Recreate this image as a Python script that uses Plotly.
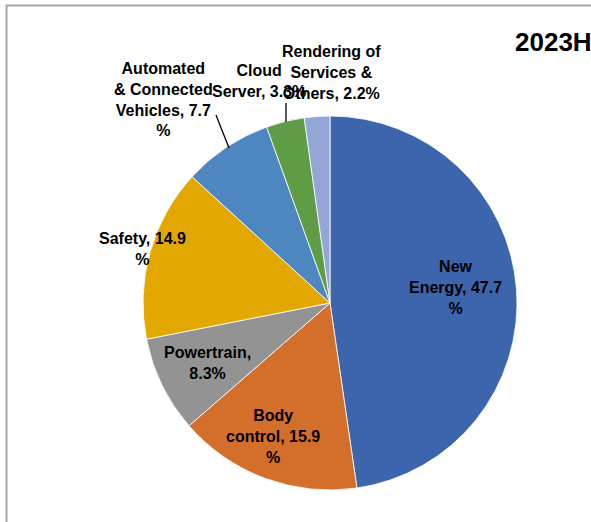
import plotly.graph_objects as go

W, H = 591, 522

categories = ["New Energy", "Body control", "Powertrain", "Safety",
              "Automated & Connected Vehicles", "Cloud Server",
              "Rendering of Services & Others"]
values = [47.7, 15.9, 8.3, 14.9, 7.7, 3.3, 2.2]
label_texts = ["New<br>Energy, 47.7<br>%", "Body<br>control, 15.9<br>%",
               "Powertrain,<br>8.3%", "Safety, 14.9<br>%",
               "Automated<br>& Connected<br>Vehicles, 7.7<br>%",
               "Cloud<br>Server, 3.3%", "Rendering of<br>Services &<br>Others, 2.2%"]
colors = ["#3D65AD", "#D46E2B", "#939393", "#E2A800", "#4E87BF", "#5E9C45", "#93A6D6"]
title_text = "2023H"

# label centres in pixels (layout only)
label_pos = [(455, 287), (273, 436), (207, 363), (142, 249), (163, 99), (259, 81), (331, 72)]
leaders = {4: ((216, 115), (229, 148)), 5: ((286, 103), (286, 122))}

def px(x):
    return x / W

def py(y):
    return 1 - y / H

cx, cy, r = 330, 303, 187

fig = go.Figure(go.Pie(
    labels=categories, values=values, sort=False, direction="clockwise",
    rotation=0, textinfo="none", hoverinfo="label+value",
    marker=dict(colors=colors, line=dict(color="white", width=0.8)),
    domain=dict(x=[px(cx - r), px(cx + r)], y=[py(cy + r), py(cy - r)]),
    showlegend=False,
))

font = dict(family="Liberation Sans, Arial, sans-serif", size=16, color="black")
for i, (t, (x, y)) in enumerate(zip(label_texts, label_pos)):
    fig.add_annotation(x=px(x), y=py(y), xref="paper", yref="paper", text="<b>" + t + "</b>",
                       showarrow=False, xanchor="center", yanchor="middle", align="center", font=font)

for i, ((x0, y0), (x1, y1)) in leaders.items():
    fig.add_shape(type="line", xref="paper", yref="paper", x0=px(x0), y0=py(y0), x1=px(x1), y1=py(y1),
                  line=dict(color="black", width=1.3))

# chart frame (clipped at right & bottom)
fig.add_shape(type="rect", xref="paper", yref="paper", x0=px(6.5), y0=-0.05, x1=1.05, y1=py(5.5),
              line=dict(color="#A6A6A6", width=2), fillcolor="rgba(0,0,0,0)")

fig.add_annotation(x=px(594), y=py(42), xref="paper", yref="paper", text="<b>" + title_text + "</b>",
                   showarrow=False, xanchor="right", yanchor="middle",
                   font=dict(family="Liberation Sans, Arial, sans-serif", size=26, color="black"))

fig.update_layout(width=W, height=H, margin=dict(l=0, r=0, t=0, b=0),
                  paper_bgcolor="white", plot_bgcolor="white")

fig.write_html("out.html")
